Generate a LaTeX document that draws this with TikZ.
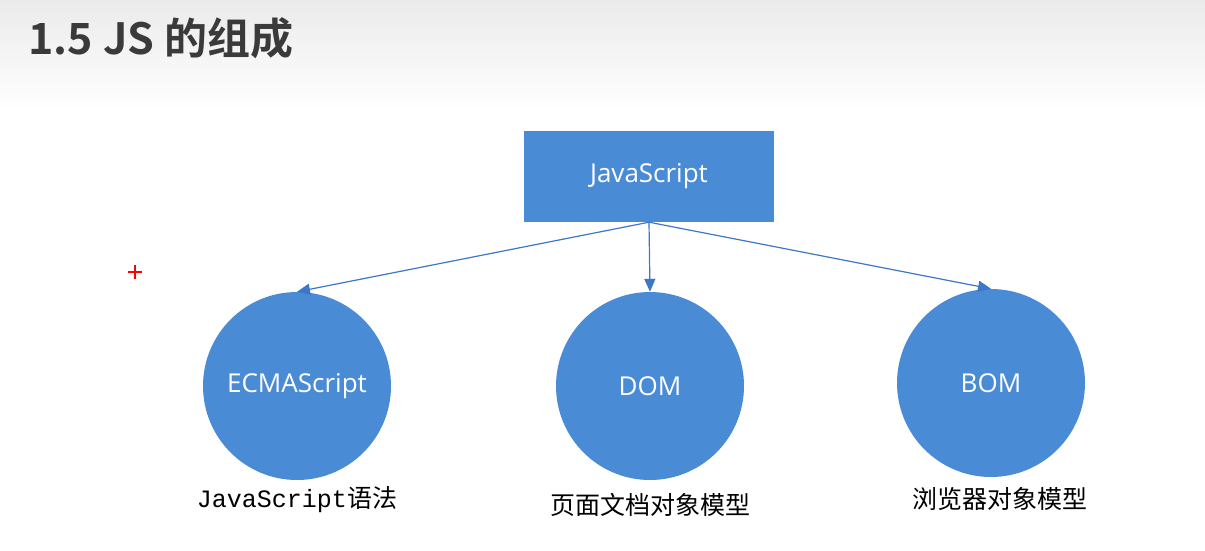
\documentclass[tikz,border=0pt]{standalone}
\usepackage{fontspec}
\setmainfont{Open Sans}
\newfontfamily\cjk{Noto Sans CJK SC}
\newfontfamily\cjkbold{Noto Sans CJK SC Bold}
\newfontfamily\monofont{Liberation Mono}
\usetikzlibrary{positioning,arrows.meta}
\definecolor{boxblue}{RGB}{74,139,214}
\definecolor{lineblue}{RGB}{60,120,200}
\definecolor{titlegray}{RGB}{58,58,58}
\begin{document}
\begin{tikzpicture}[x=1pt, y=-1pt,
  >={Triangle[length=13pt,width=11pt]},
  part/.style={circle, fill=boxblue, minimum size=188pt, inner sep=0pt, text=white, font=\fontsize{26}{30}\selectfont},
  tag/.style={font=\cjk\fontsize{25}{30}\selectfont, text=black},
  link/.style={->, lineblue, line width=1.2pt}]
\useasboundingbox (0,0) rectangle (1205,551);
% slide background
\fill[white] (0,0) rectangle (1205,551);
\shade[top color=black!8, bottom color=white] (0,0) rectangle (1205,110);
\node[anchor=west, text=titlegray, font=\cjkbold\fontsize{43}{50}\selectfont] (title) at (25,38) {1.5 JS 的组成};
% root
\node[fill=boxblue, minimum width=250pt, minimum height=91pt, text=white, font=\fontsize{26}{30}\selectfont] (js) at (649,176.5) {JavaScript};
% parts
\node[part] (ecma) at (297,386) {ECMAScript};
\node[part] (dom) at (650,386) {DOM};
\node[part] (bom) at (991,383) {BOM};
\node[tag, below=3pt of ecma] (ecmatag) {{\monofont JavaScript}语法};
\node[tag, below=10pt of dom] (domtag) {页面文档对象模型};
\node[tag, below=7pt of bom, xshift=9pt] (bomtag) {浏览器对象模型};
\draw[link] (js.south) -- (ecma.north);
\draw[link] (js.south) -- (dom.north);
\draw[link] (js.south) -- (bom.north);
% cursor mark
\draw[red, line width=2.4pt] (128,272) -- (142,272) (135,265) -- (135,279);
\end{tikzpicture}
\end{document}
